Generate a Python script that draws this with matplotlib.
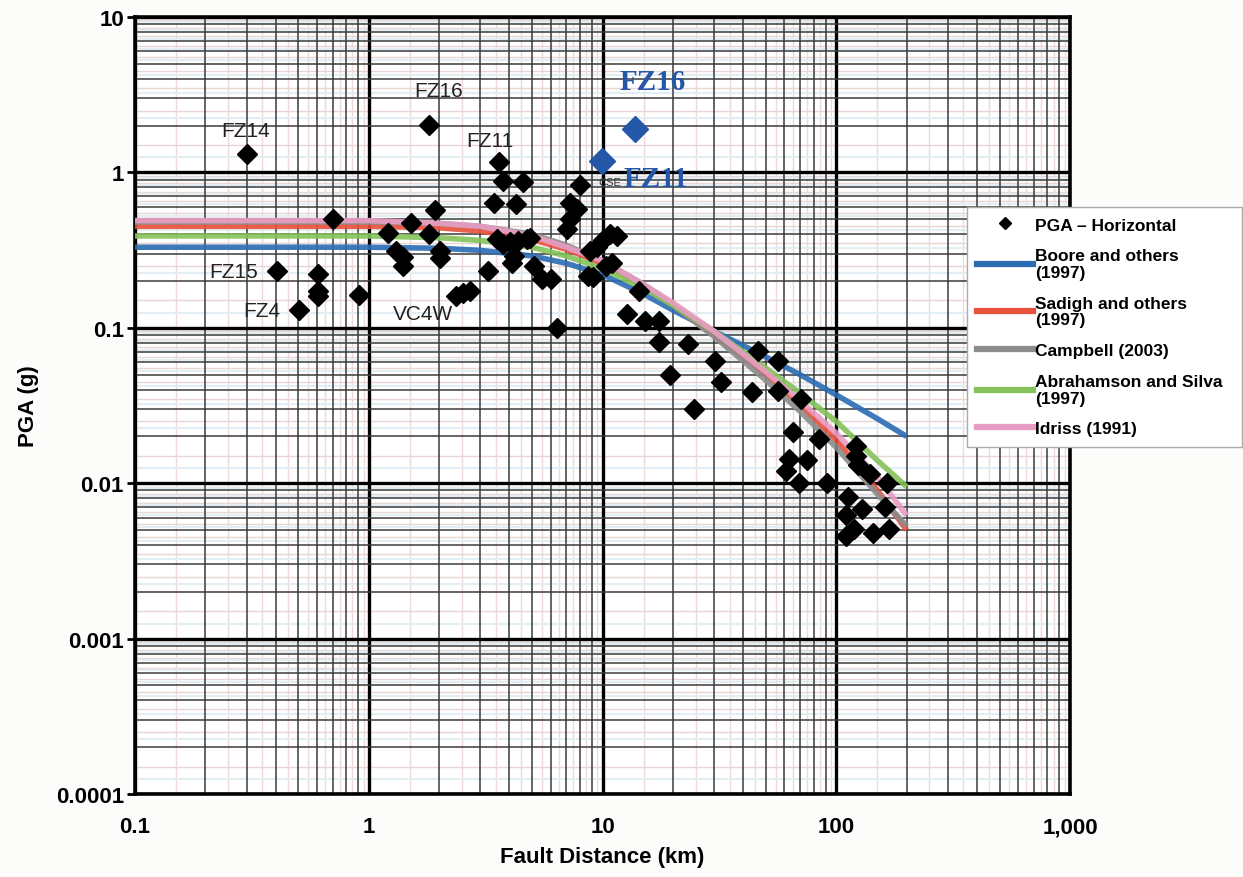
import numpy as np
import matplotlib.pyplot as plt
from matplotlib.ticker import LogLocator, FixedLocator, NullFormatter
from matplotlib.lines import Line2D

plt.rcParams['font.family'] = ['Liberation Sans', 'DejaVu Sans']

# measured PGA (horizontal), distance in km, PGA in g
dist_obs = [0.30, 1.81, 3.62, 3.76, 4.55, 3.42, 4.27, 8.0, 7.26, 7.78, 7.26, 7.05,
            0.705, 1.92, 1.52, 1.21, 1.81, 1.31, 1.40, 1.40, 2.02, 2.02,
            0.404, 0.608, 0.608, 0.608, 0.91, 0.505, 2.36, 2.54, 2.72, 3.25,
            3.53, 3.76, 4.02, 4.36, 4.74, 4.9, 4.2, 4.1, 5.1, 5.5, 6.0, 6.4,
            8.85, 9.47, 10.0, 10.8, 11.5, 8.7, 9.1, 10.4, 11.0, 12.7, 14.3,
            15.2, 17.5, 17.5, 23.2, 19.4, 24.7, 30.2, 32.1, 43.5, 46.1, 56.5, 56.5,
            70.5, 65.0, 84.6, 62.5, 61.2, 75.0, 69.2, 91.6,
            121.6, 121.6, 124, 140, 165, 112, 129, 161, 110, 119, 143, 168, 110]
pga_obs = [1.31, 2.02, 1.16, 0.885, 0.87, 0.64, 0.63, 0.83, 0.64, 0.58, 0.50, 0.43,
           0.50, 0.57, 0.47, 0.41, 0.40, 0.313, 0.284, 0.25, 0.31, 0.28,
           0.233, 0.222, 0.173, 0.16, 0.163, 0.131, 0.16, 0.168, 0.173, 0.233,
           0.372, 0.346, 0.355, 0.363, 0.372, 0.38, 0.29, 0.26, 0.25, 0.206, 0.206, 0.10,
           0.31, 0.33, 0.37, 0.40, 0.39, 0.216, 0.213, 0.25, 0.26, 0.123, 0.173,
           0.111, 0.111, 0.081, 0.079, 0.050, 0.030, 0.061, 0.0446, 0.0385, 0.071, 0.061, 0.039,
           0.035, 0.0213, 0.0192, 0.0143, 0.012, 0.014, 0.0101, 0.0101,
           0.0174, 0.015, 0.013, 0.0115, 0.0101, 0.0081, 0.0068, 0.007, 0.0062, 0.0051,
           0.0048, 0.0051, 0.0046]

# highlighted records (blue)
dist_hl = [13.8, 9.93]
pga_hl = [1.90, 1.19]

# attenuation relationships
dist_curve = [0.1, 0.3, 1, 2, 3, 5, 7, 10, 15, 20, 30, 50, 70, 100, 150, 200]
boore = [0.33, 0.33, 0.33, 0.325, 0.315, 0.29, 0.26, 0.22, 0.165, 0.13, 0.095, 0.065, 0.05, 0.037, 0.026, 0.02]
sadigh = [0.45, 0.45, 0.45, 0.44, 0.42, 0.37, 0.32, 0.26, 0.185, 0.14, 0.09, 0.05, 0.032, 0.019, 0.009, 0.005]
campbell = [0.48, 0.48, 0.48, 0.47, 0.45, 0.40, 0.34, 0.27, 0.19, 0.14, 0.088, 0.046, 0.029, 0.017, 0.0085, 0.0053]
abrahamson = [0.39, 0.39, 0.39, 0.38, 0.365, 0.33, 0.29, 0.24, 0.18, 0.14, 0.095, 0.055, 0.038, 0.025, 0.014, 0.0095]
idriss = [0.49, 0.49, 0.49, 0.47, 0.45, 0.39, 0.33, 0.27, 0.19, 0.145, 0.095, 0.052, 0.034, 0.021, 0.011, 0.0062]

curves = [('Boore and others\n(1997)', boore, '#2b6cb4'),
          ('Sadigh and others\n(1997)', sadigh, '#e8513b'),
          ('Campbell (2003)', campbell, '#8c8c8c'),
          ('Abrahamson and Silva\n(1997)', abrahamson, '#84c25a'),
          ('Idriss (1991)', idriss, '#e99cc3')]

# station labels
labels_black = [('FZ14', 0.296, 1.85), ('FZ16', 2.0, 3.39), ('FZ11', 3.3, 1.61),
                ('FZ15', 0.265, 0.232), ('FZ4', 0.349, 0.130), ('VC4W', 1.71, 0.123)]
labels_blue = [('FZ16', 16.4, 3.87), ('FZ11', 16.9, 0.907)]

x_ticks = [0.1, 1, 10, 100, 1000]
x_ticklabels = ['0.1', '1', '10', '100', '1,000']
y_ticks = [0.0001, 0.001, 0.01, 0.1, 1, 10]
y_ticklabels = ['0.0001', '0.001', '0.01', '0.1', '1', '10']

fig = plt.figure(figsize=(12.43, 8.78), dpi=100, facecolor='#fcfcfb')
ax = fig.add_axes([135 / 1243, 1 - 795 / 878, 935 / 1243, 777 / 878])
ax.set_xscale('log')
ax.set_yscale('log')
ax.set_xlim(0.1, 1000)
ax.set_ylim(0.0001, 10)

# graph-paper style grid
half = [d * 10.0 ** e for e in range(-1, 3) for d in np.arange(1.5, 10, 1.0)]
ax.vlines(half, 0.0001, 10, colors='#eedada', lw=1, zorder=0)
half_y = [d * 10.0 ** e for e in range(-4, 1) for d in np.arange(1.5, 10, 1.0)]
ax.hlines(half_y, 0.1, 1000, colors='#e8d6d6', lw=1, zorder=0)
ax.hlines([d * 10.0 ** e for e in range(-4, 1) for d in np.arange(1.25, 10, 1.0)],
          0.1, 1000, colors='#e2eef4', lw=1.5, zorder=0)

ax.xaxis.set_minor_locator(LogLocator(base=10, subs=np.arange(2, 10)))
ax.yaxis.set_minor_locator(LogLocator(base=10, subs=np.arange(2, 10)))
ax.xaxis.set_minor_formatter(NullFormatter())
ax.yaxis.set_minor_formatter(NullFormatter())
ax.grid(which='minor', color='#3a3a3a', lw=1.1, zorder=1)
ax.grid(which='major', color='black', lw=2.4, zorder=1)
ax.set_axisbelow(True)

for name, vals, col in curves:
    ax.plot(dist_curve, vals, color=col, lw=4, alpha=0.9, solid_capstyle='butt', zorder=3)

ax.plot(dist_obs, pga_obs, 'D', color='black', ms=10, zorder=4)
ax.plot(dist_hl, pga_hl, 'D', color='#2457a8', ms=13, zorder=4)

ax.text(10.7, 0.87, 'CSE', fontsize=8, color='#333333', ha='center', va='center', zorder=5)
for t, x, y in labels_black:
    ax.text(x, y, t, fontsize=15, color='#222222', ha='center', va='center', zorder=5)
for t, x, y in labels_blue:
    ax.text(x, y, t, fontsize=21, color='#2457a8', fontweight='bold',
            family=['Liberation Serif', 'DejaVu Serif'], ha='center', va='center', zorder=6)

ax.xaxis.set_major_locator(FixedLocator(x_ticks))
ax.yaxis.set_major_locator(FixedLocator(y_ticks))
ax.set_xticklabels(x_ticklabels, fontsize=16, fontweight='bold')
ax.set_yticklabels(y_ticklabels, fontsize=16, fontweight='bold')
ax.tick_params(which='minor', length=0)
ax.tick_params(axis='y', which='major', length=6, width=2, pad=2)
ax.tick_params(axis='x', which='major', length=0, pad=16)
for s in ax.spines.values():
    s.set_linewidth(2.6)

ax.set_xlabel('Fault Distance (km)', fontsize=16, fontweight='bold', labelpad=6)
ax.set_ylabel('PGA (g)', fontsize=16, fontweight='bold', labelpad=12)

handles = [Line2D([], [], marker='D', color='black', ls='none', ms=6)]
names = ['PGA \u2013 Horizontal']
for name, vals, col in curves:
    handles.append(Line2D([], [], color=col, lw=4.5))
    names.append(name)
leg = ax.legend(handles, names, loc='upper left',
                bbox_to_anchor=(967 / 1243, 1 - 448 / 878, 275 / 1243, 240 / 878),
                bbox_transform=fig.transFigure, mode='expand', frameon=True,
                fancybox=False, edgecolor='#aaaaaa', framealpha=1,
                prop={'weight': 'bold', 'size': 12.5}, handlelength=3.2,
                handletextpad=0.1, labelspacing=0.9, borderpad=0.6, borderaxespad=0)
for t in leg.get_texts():
    t.set_linespacing(1.15)
leg.set_zorder(10)

fig.savefig('out.png', dpi=100, facecolor=fig.get_facecolor())
